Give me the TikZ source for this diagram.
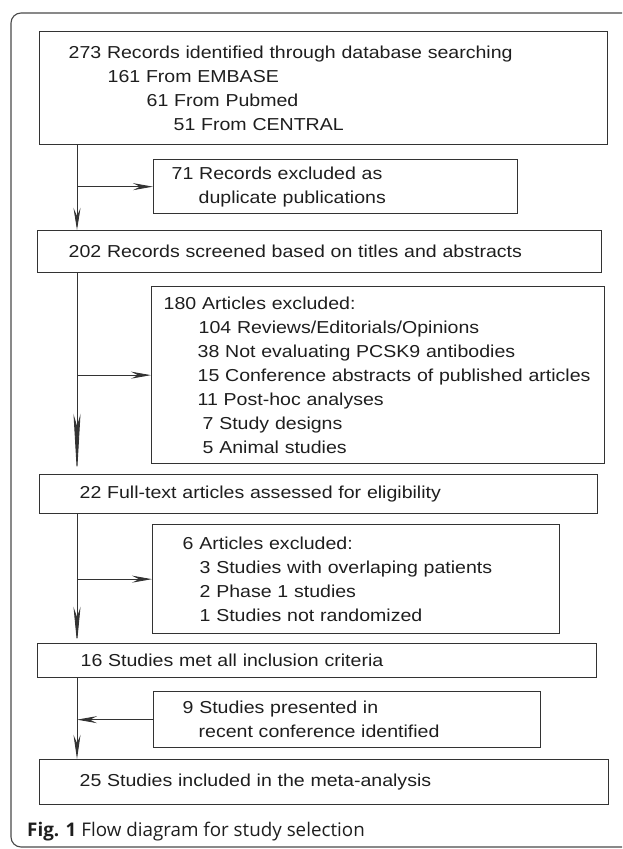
\documentclass[tikz,border=0pt]{standalone}
\usepackage{fontspec}
\setmainfont{Liberation Sans}[FakeStretch=1.13]
\newfontfamily\captionfont{Open Sans}
\usepackage{tikz}
\usetikzlibrary{arrows.meta,positioning}
\usepackage{xcolor}
\definecolor{boxline}{HTML}{333333}
\definecolor{boxtext}{HTML}{1E1E1E}
\definecolor{frameline}{HTML}{4A4A4A}
\tikzset{
  flowbox/.style={draw=boxline, line width=1.3pt, anchor=north west, align=left, inner ysep=0pt, text=boxtext, font=\fontsize{17.3}{24}\selectfont},
  flowline/.style={draw=boxline, line width=0.9pt},
  flowarrow/.style 2 args={flowline, -{Stealth[length=#1, width=7pt, inset=#2]}},
  framebox/.style={draw=frameline, line width=1.1pt, rounded corners=10pt},
  captext/.style={anchor=west, inner sep=0pt, text=boxtext, font=\captionfont\fontsize{18.8}{22}\selectfont},
}

\begin{document}
\begin{tikzpicture}[x=1pt, y=-1pt]
  \clip (0,0) rectangle (622,849);
  \draw[framebox] (11,13) rectangle (660,847);
  \coordinate (spine) at (77,0);

  % main column
  \node[flowbox, minimum height=113pt, inner xsep=29pt, text width=510pt] (records) at (39,31)
    {273 Records identified through database searching\\
     \hspace*{39pt}161 From EMBASE\\
     \hspace*{78pt}61 From Pubmed\\
     \hspace*{105pt}51 From CENTRAL};
  \node[flowbox, minimum height=42pt, inner xsep=31pt, text width=502pt] (screened) at (37,230)
    {202 Records screened based on titles and abstracts};
  \node[flowbox, minimum height=39pt, inner xsep=40pt, text width=478pt] (fulltext) at (39,474)
    {22 Full-text articles assessed for eligibility};
  \node[flowbox, minimum height=34pt, inner xsep=43pt, text width=473pt] (met) at (37,643)
    {16 Studies met all inclusion criteria};
  \node[flowbox, minimum height=45pt, inner xsep=40pt, text width=489pt] (included) at (39,759)
    {25 Studies included in the meta-analysis};

  % side boxes
  \node[flowbox, minimum height=54pt, inner xsep=18pt, text width=328pt] (dupes) at (153,159)
    {71 Records excluded as\\
     \hspace*{27pt}duplicate publications};
  \node[flowbox, minimum height=177pt, inner xsep=12pt, text width=429pt] (excl180) at (151,286)
    {180 Articles excluded:\\
     \hspace*{35pt}104 Reviews/Editorials/Opinions\\
     \hspace*{34pt}38 Not evaluating PCSK9 antibodies\\
     \hspace*{34pt}15 Conference abstracts of published articles\\
     \hspace*{34pt}11 Post-hoc analyses\\
     \hspace*{39pt}7 Study designs\\
     \hspace*{39pt}5 Animal studies};
  \node[flowbox, minimum height=109pt, inner xsep=30pt, text width=347pt] (excl6) at (152,524)
    {6 Articles excluded:\\
     \hspace*{17pt}3 Studies with overlaping patients\\
     \hspace*{17pt}2 Phase 1 studies\\
     \hspace*{17pt}1 Studies not randomized};
  \node[flowbox, minimum height=56pt, inner xsep=29pt, text width=329pt] (conference) at (153,691)
    {9 Studies presented in\\
     \hspace*{16pt}recent conference identified};

  \node[captext] (caption) at (27,832) {\textbf{Fig. 1} Flow diagram for study selection};

  % connectors
  \draw[flowarrow={22pt}{8pt}] (records.south -| spine) -- (screened.north -| spine);
  \draw[flowarrow={20pt}{7pt}] (spine |- dupes.west) -- (dupes.west);
  \draw[flowarrow={60pt}{12pt}] (screened.south -| spine) -- (fulltext.north -| spine);
  \draw[flowarrow={20pt}{7pt}] (spine |- excl180.west) -- (excl180.west);
  \draw[flowarrow={36pt}{10pt}] (fulltext.south -| spine) -- (met.north -| spine);
  \draw[flowarrow={20pt}{7pt}] (spine |- excl6.west) -- (excl6.west);
  \draw[flowarrow={24pt}{8pt}] (met.south -| spine) -- (included.north -| spine);
  \draw[flowarrow={20pt}{7pt}] (conference.west) -- (spine |- conference.west);
\end{tikzpicture}
\end{document}
